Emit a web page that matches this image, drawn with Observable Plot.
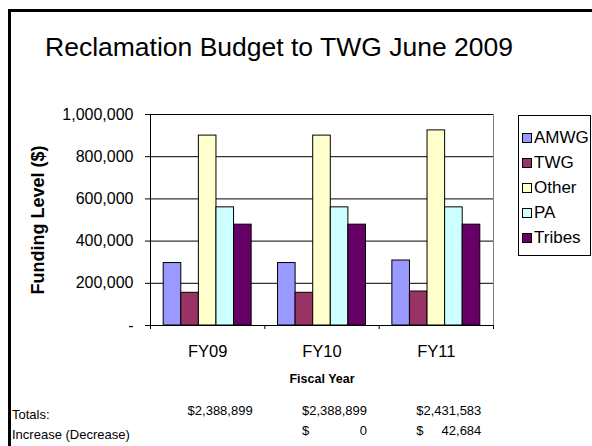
<!DOCTYPE html>
<html><head><meta charset="utf-8">
<script src="https://cdn.jsdelivr.net/npm/d3@7"></script>
<script src="https://cdn.jsdelivr.net/npm/@observablehq/plot@0.6"></script>
<style>
html,body{margin:0;padding:0;background:#fff;}
#page{position:relative;width:592px;height:446px;overflow:hidden;font-family:"Liberation Sans",Arial,sans-serif;color:#000;background:#fff;}
#border{position:absolute;left:8px;top:9px;width:700px;height:600px;border:3px solid #000;box-sizing:border-box;}
#title{position:absolute;left:45px;top:34px;font-size:26.5px;line-height:1;white-space:nowrap;}
#chart{position:absolute;left:0;top:0;}
.rowlabel{position:absolute;left:12px;font-size:13px;line-height:1;white-space:nowrap;}
#legend{position:absolute;left:518px;top:115px;width:73px;height:141px;border:1px solid #000;box-sizing:border-box;background:#fff;padding:9px 0 0 3px;}
.item{display:flex;align-items:center;height:25px;font-size:17px;white-space:nowrap;}
.sw{width:8px;height:8px;border:1px solid #000;margin-right:2px;flex:none;}
</style>
</head>
<body>
<div id="page">
  <div id="border"></div>
  <div id="title">Reclamation Budget to TWG June 2009</div>
  <div id="chart"></div>
  <div id="legend"></div>
  <div class="rowlabel" style="top:407.5px">Totals:</div>
  <div class="rowlabel" style="top:427.5px">Increase (Decrease)</div>
</div>
<script>
// ---- data ----
const years = ["FY09", "FY10", "FY11"];
const series = ["AMWG", "TWG", "Other", "PA", "Tribes"];
const colors = ["#9999FF", "#993366", "#FFFFCC", "#CCFFFF", "#660066"];
const amwg   = [296000, 296000, 308000];
const twg    = [155000, 155000, 161000];
const other  = [900000, 900000, 924684];
const pa     = [560000, 560000, 560000];
const tribes = [477899, 477899, 477899];
const totals    = [2388899, 2388899, 2431583];
const increases = [null, 0, 42684];
const yTicks = [0, 200000, 400000, 600000, 800000, 1000000];

// ---- build table ----
const valuesBySeries = [amwg, twg, other, pa, tribes];
const table = years.flatMap((year, i) =>
  series.map((s, j) => ({year, yi: i, series: s, si: j, value: valuesBySeries[j][i]})));
const gap = 1.5; // Excel gap width 150%
const slots = series.length + gap;
const rows = years.map((year, i) => ({year, pos: i + 0.5, total: totals[i], inc: increases[i]}));
const fmt = d3.format(",");

const chart = Plot.plot({
  width: 592,
  height: 446,
  marginLeft: 150,
  marginRight: 99,
  marginTop: 114,
  marginBottom: 121,
  style: {fontFamily: "'Liberation Sans', Arial, sans-serif", fontSize: "16px", color: "#000", background: "transparent", overflow: "visible"},
  x: {domain: [0, years.length]},
  y: {domain: [0, 1000000]},
  color: {domain: series, range: colors},
  marks: [
    Plot.gridY(yTicks, {stroke: "#000", strokeOpacity: 1}),
    Plot.rectY(table, {
      x1: d => d.yi + (gap / 2 + d.si) / slots,
      x2: d => d.yi + (gap / 2 + d.si + 1) / slots,
      y1: 0, y2: "value",
      fill: "series", stroke: "#000", strokeWidth: 1
    }),
    Plot.ruleX([years.length], {stroke: "#808080"}),
    Plot.ruleX([0], {stroke: "#000"}),
    Plot.ruleY([0], {stroke: "#000"}),
    Plot.axisY({ticks: yTicks, tickSize: 5, tickPadding: 12, fontSize: 16,
      tickFormat: d => d === 0 ? "-" : fmt(d), label: null}),
    Plot.axisY({ticks: [], label: "Funding Level ($)", labelAnchor: "center", labelArrow: "none",
      labelOffset: 119, fontSize: 18, fontWeight: "bold"}),
    Plot.axisX(d3.range(years.length + 1), {tickSize: 4, tickFormat: () => "", label: null}),
    Plot.axisX(rows.map(r => r.pos), {tickSize: 0, tickPadding: 20, fontSize: 16.5,
      tickFormat: t => years[Math.floor(t)], label: null}),
    Plot.axisX({ticks: [], label: "Fiscal Year", labelAnchor: "center", labelArrow: "none",
      labelOffset: 57.5, fontSize: 12.5, fontWeight: "bold"}),
    Plot.text(rows, {x: "pos", frameAnchor: "bottom", dy: 89.3, dx: 45, textAnchor: "end",
      fontSize: 13, text: r => "$" + fmt(r.total)}),
    Plot.text(rows.filter(r => r.inc != null), {x: "pos", frameAnchor: "bottom", dy: 109.3, dx: -20, textAnchor: "start",
      fontSize: 13, text: () => "$"}),
    Plot.text(rows.filter(r => r.inc != null), {x: "pos", frameAnchor: "bottom", dy: 109.3, dx: 45, textAnchor: "end",
      fontSize: 13, text: r => fmt(r.inc)})
  ]
});
document.getElementById("chart").appendChild(chart);

// legend
const legend = document.getElementById("legend");
series.forEach((s, i) => {
  const item = document.createElement("div");
  item.className = "item";
  const sw = document.createElement("span");
  sw.className = "sw";
  sw.style.background = colors[i];
  const label = document.createElement("span");
  label.textContent = s;
  item.appendChild(sw);
  item.appendChild(label);
  legend.appendChild(item);
});
</script>
</body></html>
